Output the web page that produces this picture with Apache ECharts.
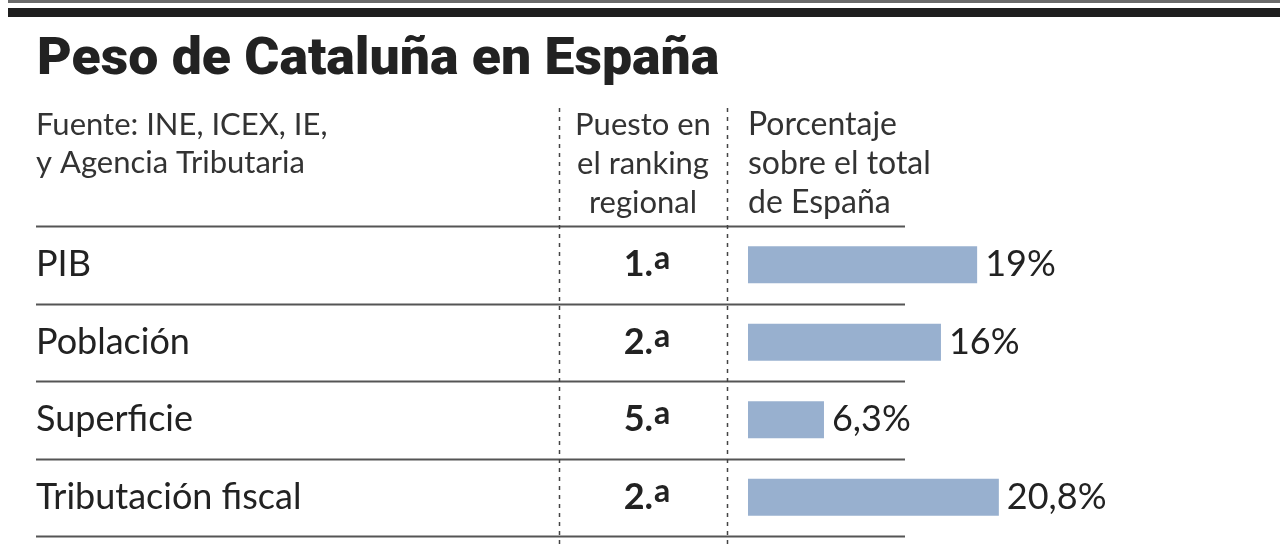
<!DOCTYPE html>
<html><head><meta charset="utf-8">
<script src="https://cdn.jsdelivr.net/npm/echarts@6/dist/echarts.min.js"></script>
<style>html,body{margin:0;padding:0;background:#fff}#c{width:1280px;height:548px}</style>
</head><body><div id="c"></div>
<script>
const titleText = 'Peso de Cataluña en España';
const sourceLines = ['Fuente: INE, ICEX, IE,', 'y Agencia Tributaria'];
const rankHeader = ['Puesto en', 'el ranking', 'regional'];
const pctHeader = ['Porcentaje', 'sobre el total', 'de España'];
const categories = ['PIB', 'Población', 'Superficie', 'Tributación fiscal'];
const ranks = [1, 2, 5, 2];
const values = [19, 16, 6.3, 20.8];

const FONT = 'Lato, "Noto Sans", sans-serif';
const TXT = '#222';
const gridLeft = 748, gridTop = 226, gridBottomY = 536, xMax = 25, pxPerUnit = 12.06;
const rowH = (gridBottomY - gridTop) / categories.length;

const chart = echarts.init(document.getElementById('c'), null, {renderer: 'canvas'});

const graphics = [];
graphics.push({type: 'rect', shape: {x: 8, y: 0, width: 1272, height: 3}, style: {fill: '#6a6a6a'}, silent: true});
graphics.push({type: 'rect', shape: {x: 8, y: 8, width: 1272, height: 9}, style: {fill: '#1e1e1e'}, silent: true});
graphics.push({type: 'text', x: 37, y: 87, scaleX: 1.03, style: {text: titleText, font: '900 52px Roboto, "Noto Sans", sans-serif', fill: '#222', textVerticalAlign: 'bottom'}});
sourceLines.forEach((t, i) => graphics.push({type: 'text', x: 36, y: 125 + i * 38, style: {text: t, font: '31px ' + FONT, fill: '#333', textVerticalAlign: 'middle'}}));
rankHeader.forEach((t, i) => graphics.push({type: 'text', x: 643, y: 125 + i * 39, style: {text: t, font: '31px ' + FONT, fill: '#333', textAlign: 'center', textVerticalAlign: 'middle'}}));
pctHeader.forEach((t, i) => graphics.push({type: 'text', x: 748, y: 125 + i * 39, style: {text: t, font: '32px ' + FONT, fill: '#333', textVerticalAlign: 'middle'}}));
for (let i = 0; i <= categories.length; i++) {
  const y = Math.round(gridTop + i * rowH) + 0.5;
  graphics.push({type: 'line', shape: {x1: 36, y1: y, x2: 905, y2: y}, style: {stroke: '#555', lineWidth: 2}, silent: true});
}
[559, 727].forEach(x => graphics.push({type: 'line', shape: {x1: x + 0.5, y1: 108, x2: x + 0.5, y2: 548}, style: {stroke: '#444', lineWidth: 1.5, lineDash: [4, 5]}, silent: true}));

chart.setOption({
  animation: false,
  grid: {left: gridLeft, top: gridTop, width: xMax * pxPerUnit, height: gridBottomY - gridTop},
  xAxis: {type: 'value', min: 0, max: xMax, show: false},
  yAxis: [
    {type: 'category', data: categories, inverse: true, axisLine: {show: false}, axisTick: {show: false},
     axisLabel: {margin: gridLeft - 36, align: 'left', fontSize: 36, color: TXT, fontFamily: FONT}},
    {type: 'category', data: categories, inverse: true, position: 'left', axisLine: {show: false}, axisTick: {show: false},
     axisLabel: {margin: gridLeft - 647, align: 'center', fontFamily: FONT,
       formatter: (v, i) => '{n|' + ranks[i] + '.}{s|a}',
       rich: {n: {fontSize: 36, fontWeight: 'bold', color: TXT, fontFamily: FONT},
              s: {fontSize: 32, fontWeight: 'bold', color: TXT, fontFamily: FONT, verticalAlign: 'top', padding: [0, 0, 12, 1]}}}}
  ],
  series: [{
    type: 'bar', data: values, barWidth: 37, itemStyle: {color: '#98b0cf'},
    label: {show: true, position: 'right', distance: 8, fontSize: 36, color: TXT, fontFamily: FONT,
      formatter: p => String(p.value).replace('.', ',') + '%'}
  }],
  graphic: graphics
});
</script></body></html>
